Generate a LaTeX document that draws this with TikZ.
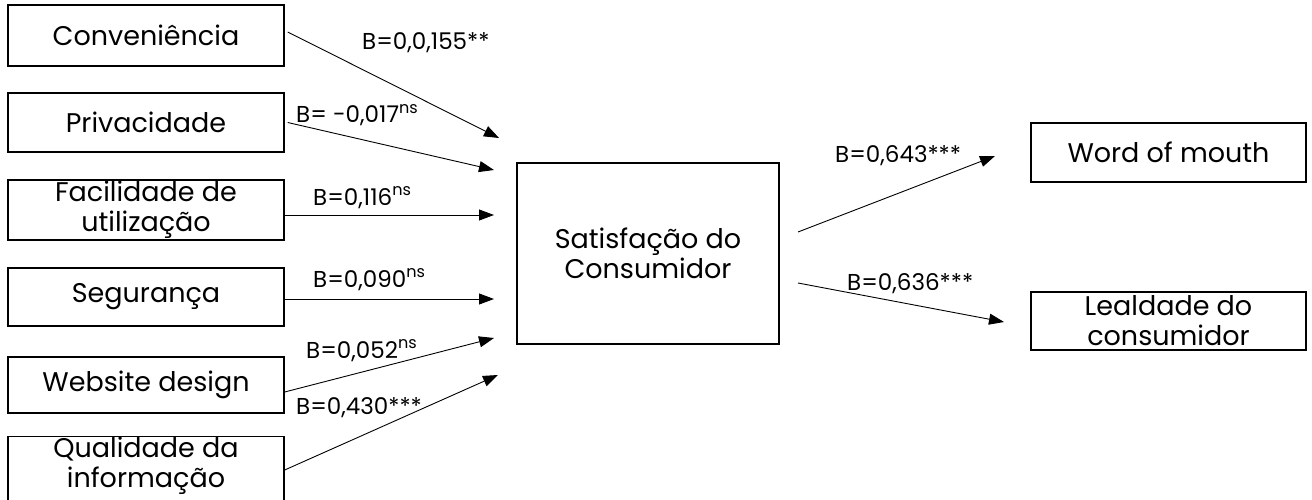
\documentclass[tikz,border=0pt]{standalone}
\usepackage{fontspec}
\setmainfont{Poppins}
\usetikzlibrary{arrows.meta}
\begin{document}
\begin{tikzpicture}[x=1pt,y=-1pt,
  box/.style={draw,line width=1.4pt,rectangle,inner sep=0pt,align=center,font=\fontsize{27}{30}\selectfont},
  conn/.style={line width=0.9pt,-{Triangle[length=15pt,width=11pt]}},
  lab/.style={font=\fontsize{23}{25}\selectfont,inner sep=0pt,anchor=base west}]
\useasboundingbox (0,0) rectangle (1312,500);
\newcommand{\nsx}{\textsuperscript{ns}}
% left boxes
\node[box,minimum width=276pt,minimum height=61pt] (conv) at (146,35.5) {Conveniência};
\node[box,minimum width=276pt,minimum height=59pt] (priv) at (146,122.5) {Privacidade};
\node[box,minimum width=276pt,minimum height=60pt] (fac) at (146,210) {Facilidade de\\utilização};
\node[box,minimum width=276pt,minimum height=58pt] (seg) at (146,297) {Segurança};
\node[box,minimum width=276pt,minimum height=56pt] (web) at (146,385) {Website design};
\node[box,minimum width=276pt,minimum height=64pt] (qual) at (146,474) {Qualidade da\\informação\\[-6pt]};
% centre
\node[box,minimum width=262pt,minimum height=181pt] (sat) at (648,253.5) {Satisfação do\\Consumidor};
% right boxes
\node[box,minimum width=275pt,minimum height=59pt] (wom) at (1168.5,152.5) {Word of mouth};
\node[box,minimum width=275pt,minimum height=58pt] (leal) at (1168.5,321) {Lealdade do\\consumidor};
% tips
\coordinate (t1) at (499,138);
\coordinate (t2) at (494,170);
\coordinate (t3) at (494,215);
\coordinate (t4) at (494,299);
\coordinate (t5) at (494,338);
\coordinate (t6) at (498,375);
\coordinate (s7) at (798,232);
\coordinate (t7) at (995,156);
\coordinate (s8) at (798,283);
\coordinate (t8) at (1004,322);
% connectors
\draw[conn] ([xshift=3pt,yshift=3.5pt]conv.east) -- (t1);
\draw[conn] ([xshift=3pt]priv.east) -- (t2);
\draw[conn] ([yshift=-5pt]fac.east) -- (t3);
\draw[conn] ([yshift=-2pt]seg.east) -- (t4);
\draw[conn] ([yshift=-7pt]web.east) -- (t5);
\draw[conn] ([yshift=4pt]qual.east) -- (t6);
\draw[conn] (s7) -- (t7);
\draw[conn] (s8) -- (t8);
% labels
\node[lab] (l1) at (362,50) {B=0,0,155**};
\node[lab] (l2) at (296,123) {B= -0,017\nsx};
\node[lab] (l3) at (313,205) {B=0,116\nsx};
\node[lab] (l4) at (313,287) {B=0,090\nsx};
\node[lab] (l5) at (306,358) {B=0,052\nsx};
\node[lab] (l6) at (296,414) {B=0,430***};
\node[lab] (l7) at (835,163) {B=0,643***};
\node[lab] (l8) at (847,290) {B=0,636***};
\end{tikzpicture}
\end{document}
